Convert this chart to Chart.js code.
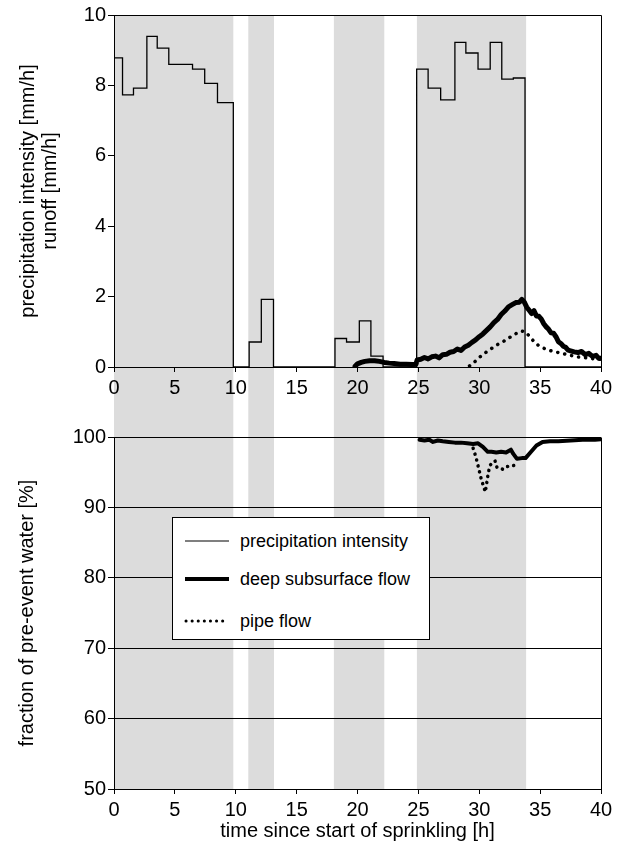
<!DOCTYPE html>
<html>
<head>
<meta charset="utf-8">
<script src="https://cdn.jsdelivr.net/npm/chart.js@4/dist/chart.umd.min.js"></script>
<style>
  html, body { margin: 0; padding: 0; background: #fff; }
  body { width: 621px; height: 852px; position: relative; overflow: hidden; font-family: "Liberation Sans", Arial, sans-serif; }
  #c1 { position: absolute; left: 0; top: 0; }
  #c2 { position: absolute; left: 0; top: 420px; }
  #legend { position: absolute; left: 172px; top: 517px; width: 256px; height: 121px; border: 1px solid #000; background: #fff; z-index: 5; }
  .row { position: absolute; left: 0; height: 24px; width: 100%; }
  .row svg { position: absolute; left: 11px; top: 0; }
  .row span { position: absolute; left: 67px; top: 0; line-height: 24px; font-size: 18px; color: #000; white-space: nowrap; }
</style>
</head>
<body>
<canvas id="c1" width="621" height="420"></canvas>
<canvas id="c2" width="621" height="432"></canvas>
<div id="legend">
  <div class="row" style="top:11px"><svg width="46" height="24"><line x1="1" y1="12" x2="45" y2="12" stroke="#000" stroke-width="1.2"/></svg><span>precipitation intensity</span></div>
  <div class="row" style="top:49px"><svg width="46" height="24"><line x1="1" y1="12" x2="45" y2="12" stroke="#000" stroke-width="4"/></svg><span>deep subsurface flow</span></div>
  <div class="row" style="top:91px"><svg width="46" height="24"><line x1="2" y1="12" x2="44" y2="12" stroke="#000" stroke-width="3" stroke-linecap="round" stroke-dasharray="0.1 6"/></svg><span>pipe flow</span></div>
</div>
<script>
// ---- data ----
// sprinkling periods [start, end] in hours (grey bands)
const sprinklingStart = [0, 11.03, 18.06, 24.88];
const sprinklingEnd   = [9.8, 13.14, 22.2, 33.85];

// precipitation intensity (step function: value holds from time until next time)
const precipTimes  = [0, 0.7, 1.6, 2.7, 3.55, 4.5, 6.45, 7.45, 8.5, 9.8, 11.1, 12.1, 13.1, 18.15, 19.1, 20.15, 21.1, 22.1, 24.86, 25.8, 26.83, 28.0, 28.9, 29.9, 30.9, 31.85, 32.8, 33.76, 40];
const precipValues = [8.78, 7.73, 7.92, 9.39, 9.06, 8.6, 8.46, 8.06, 7.51, 0, 0.71, 1.92, 0, 0.81, 0.71, 1.31, 0.31, 0, 8.46, 7.92, 7.59, 9.22, 8.92, 8.46, 9.22, 8.18, 8.21, 0, 0];

// deep subsurface flow runoff [mm/h]
const deepTimes  = [19.8, 20.0, 20.3, 20.6, 21.0, 21.4, 21.8, 22.2, 22.6, 23.0, 23.5, 24.0, 24.5, 24.8, 24.9, 25.2, 25.5, 25.8, 26.1, 26.4, 26.7, 27.0, 27.3, 27.6, 27.9, 28.2, 28.5, 28.8, 29.1, 29.4, 29.7, 30.0, 30.3, 30.6, 30.9, 31.2, 31.5, 31.8, 32.1, 32.4, 32.7, 33.0, 33.3, 33.5, 33.7, 33.9, 34.1, 34.3, 34.5, 34.7, 34.9, 35.1, 35.3, 35.5, 35.7, 35.9, 36.1, 36.3, 36.5, 36.7, 36.9, 37.1, 37.3, 37.5, 37.8, 38.1, 38.4, 38.7, 39.0, 39.3, 39.6, 39.8, 40.0];
const deepRunoff = [0.02, 0.09, 0.13, 0.16, 0.18, 0.18, 0.16, 0.13, 0.11, 0.10, 0.08, 0.08, 0.07, 0.08, 0.20, 0.22, 0.27, 0.23, 0.29, 0.31, 0.26, 0.35, 0.36, 0.42, 0.44, 0.51, 0.47, 0.57, 0.62, 0.70, 0.77, 0.86, 0.94, 1.04, 1.14, 1.26, 1.35, 1.49, 1.59, 1.71, 1.77, 1.83, 1.84, 1.92, 1.84, 1.70, 1.61, 1.52, 1.60, 1.45, 1.44, 1.36, 1.23, 1.14, 1.07, 0.97, 0.96, 0.86, 0.72, 0.67, 0.59, 0.56, 0.48, 0.46, 0.43, 0.41, 0.44, 0.35, 0.39, 0.30, 0.33, 0.25, 0.25];

// pipe flow runoff [mm/h]
const pipeTimes  = [29.2, 29.6, 30.0, 30.4, 30.8, 31.2, 31.6, 32.0, 32.4, 32.8, 33.2, 33.5, 33.8, 34.0, 34.3, 34.6, 35.0, 35.5, 36.0, 36.5, 37.0, 37.5, 38.0, 38.5, 39.0, 39.5, 40.0];
const pipeRunoff = [0.03, 0.14, 0.27, 0.38, 0.48, 0.57, 0.66, 0.73, 0.82, 0.90, 0.99, 1.02, 1.00, 0.92, 0.80, 0.68, 0.58, 0.50, 0.45, 0.41, 0.37, 0.33, 0.29, 0.27, 0.25, 0.23, 0.22];

// fraction of pre-event water [%]
const deepFracTimes = [25.1, 25.5, 25.9, 26.2, 26.6, 27.0, 27.5, 28.0, 28.5, 29.0, 29.5, 29.9, 30.3, 30.7, 31.0, 31.4, 31.8, 32.2, 32.6, 32.8, 33.1, 33.5, 33.8, 34.2, 34.7, 35.2, 35.8, 36.5, 37.5, 38.5, 39.5, 40.0];
const deepFraction  = [99.6, 99.5, 99.6, 99.3, 99.5, 99.4, 99.3, 99.2, 99.2, 99.1, 99.0, 99.1, 98.6, 97.9, 97.9, 97.8, 97.9, 97.8, 98.2, 97.6, 96.9, 97.0, 97.0, 97.8, 98.8, 99.3, 99.4, 99.4, 99.5, 99.6, 99.6, 99.7];
const pipeFracTimes = [29.5, 29.7, 29.85, 30.0, 30.15, 30.35, 30.5, 30.6, 30.75, 30.9, 31.1, 31.3, 31.45, 31.7, 31.95, 32.3, 32.7, 33.0];
const pipeFraction  = [98.4, 97.3, 96.3, 95.2, 94.1, 93.0, 92.2, 93.3, 95.0, 96.0, 96.4, 96.6, 95.7, 95.6, 95.4, 95.8, 95.9, 96.0];

// tick settings
const xTickStep = 5;
const topYTickStep = 2;
const bottomYTickStep = 10;

// ---- helpers ----
const pts = (xs, ys) => xs.map((x, i) => ({ x: x, y: ys[i] }));
Chart.defaults.font.family = '"Liberation Sans", Arial, sans-serif';
Chart.defaults.color = '#000';

const BAND = '#dcdcdc';
const bandsPlugin = (fromTop, toBottom) => ({
  id: 'bands',
  beforeDraw(chart) {
    const { ctx, chartArea } = chart;
    const xs = chart.scales.x;
    const y0 = fromTop ? chartArea.top : 0;
    const y1 = toBottom ? chart.height : chartArea.bottom;
    ctx.save();
    ctx.fillStyle = BAND;
    for (let i = 0; i < sprinklingStart.length; i++) {
      const a = xs.getPixelForValue(sprinklingStart[i]);
      const b = xs.getPixelForValue(sprinklingEnd[i]);
      ctx.fillRect(a, y0, b - a, y1 - y0);
    }
    ctx.restore();
  }
});
const framePlugin = (drawTop) => ({
  id: 'frame',
  afterDraw(chart) {
    const { ctx, chartArea } = chart;
    ctx.save();
    ctx.strokeStyle = '#000';
    ctx.lineWidth = 1;
    ctx.beginPath();
    const r = Math.round(chartArea.right) + 0.5;
    const t = Math.round(chartArea.top) + 0.5;
    ctx.moveTo(r, chartArea.bottom);
    ctx.lineTo(r, t);
    if (drawTop) ctx.lineTo(chartArea.left, t);
    ctx.stroke();
    ctx.restore();
  }
});

const tickFont = { size: 20 };
const xScale = (h) => ({
  type: 'linear', min: 0, max: 40,
  ticks: { stepSize: xTickStep, font: tickFont, color: '#000', padding: 4, maxRotation: 0, autoSkip: false },
  grid: { drawOnChartArea: false, drawTicks: true, tickLength: 5, color: '#000', lineWidth: 1 },
  border: { display: true, color: '#000', width: 1 },
  afterFit(s) { s.height = h; }
});

// ---- top chart ----
new Chart(document.getElementById('c1'), {
  type: 'line',
  data: {
    datasets: [
      { label: 'precipitation intensity', data: pts(precipTimes, precipValues), stepped: 'before',
        borderColor: '#000', borderWidth: 1.3, pointRadius: 0, fill: false },
      { label: 'deep subsurface flow', data: pts(deepTimes, deepRunoff),
        borderColor: '#000', borderWidth: 5, pointRadius: 0, fill: false, borderJoinStyle: 'round', borderCapStyle: 'round' },
      { label: 'pipe flow', data: pts(pipeTimes, pipeRunoff),
        borderColor: '#000', borderWidth: 3.5, borderDash: [0.1, 7], borderCapStyle: 'round', pointRadius: 0, fill: false }
    ]
  },
  options: {
    responsive: false, animation: false, devicePixelRatio: 1,
    layout: { padding: { top: 15, right: 20, left: 0, bottom: 0 } },
    plugins: { legend: { display: false }, tooltip: { enabled: false } },
    scales: {
      x: xScale(53),
      y: {
        min: 0, max: 10,
        ticks: { stepSize: topYTickStep, font: tickFont, color: '#000', padding: 2 },
        grid: { drawOnChartArea: false, drawTicks: true, tickLength: 6, color: '#000' },
        border: { display: true, color: '#000', width: 1 },
        title: { display: true, text: ['precipitation intensity [mm/h]', 'runoff [mm/h]'], font: { size: 20, lineHeight: 1.1 }, color: '#000', padding: { top: 17, bottom: 0 } },
        afterFit(s) { s.width = 114; }
      }
    }
  },
  plugins: [bandsPlugin(true, true), framePlugin(true)]
});

// ---- bottom chart ----
new Chart(document.getElementById('c2'), {
  type: 'line',
  data: {
    datasets: [
      { label: 'deep subsurface flow', data: pts(deepFracTimes, deepFraction),
        borderColor: '#000', borderWidth: 4, pointRadius: 0, fill: false, borderJoinStyle: 'round', borderCapStyle: 'round' },
      { label: 'pipe flow', data: pts(pipeFracTimes, pipeFraction),
        borderColor: '#000', borderWidth: 3.5, borderDash: [0.1, 6], borderCapStyle: 'round', pointRadius: 0, fill: false }
    ]
  },
  options: {
    responsive: false, animation: false, devicePixelRatio: 1,
    layout: { padding: { top: 17, right: 20, left: 0, bottom: 0 } },
    plugins: { legend: { display: false }, tooltip: { enabled: false } },
    scales: {
      x: Object.assign(xScale(63), {
        title: { display: true, text: 'time since start of sprinkling [h]', font: { size: 20, lineHeight: 1.1 }, color: '#000', padding: { top: 0, bottom: 10 } }
      }),
      y: {
        min: 50, max: 100,
        ticks: { stepSize: bottomYTickStep, font: tickFont, color: '#000', padding: 2 },
        grid: { drawOnChartArea: true, drawTicks: true, tickLength: 6, color: '#000', lineWidth: 1 },
        border: { display: true, color: '#000', width: 1 },
        title: { display: true, text: 'fraction of pre-event water [%]', font: { size: 20, lineHeight: 1.1 }, color: '#000', padding: { top: 16, bottom: 0 } },
        afterFit(s) { s.width = 114; }
      }
    }
  },
  plugins: [bandsPlugin(false, false), framePlugin(false)]
});
</script>
</body>
</html>
